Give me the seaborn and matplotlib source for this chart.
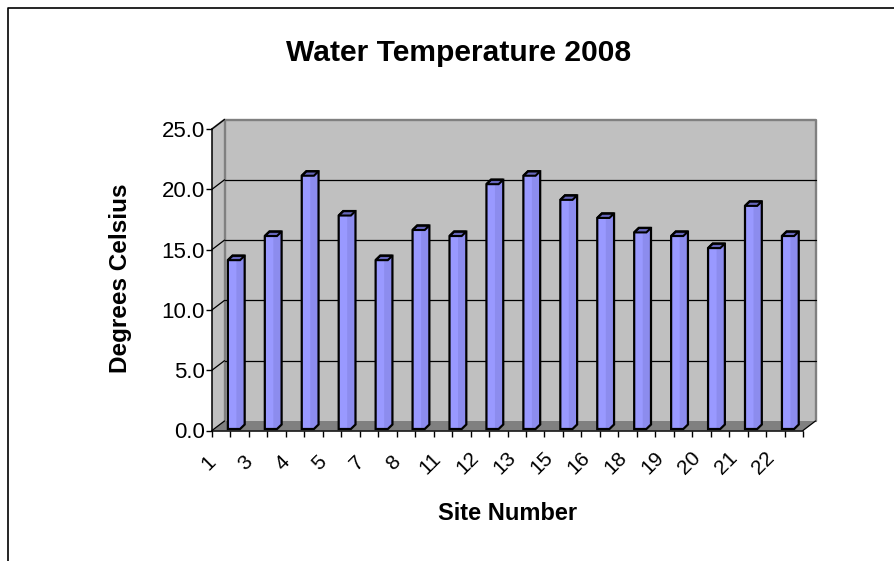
import matplotlib
matplotlib.use("Agg")
import matplotlib.pyplot as plt
import matplotlib.transforms as mtrans
from matplotlib.patches import Polygon
import seaborn as sns
import pandas as pd

sites = ["1", "3", "4", "5", "7", "8", "11", "12", "13", "15", "16", "18", "19", "20", "21", "22"]
temps = [14.0, 16.0, 21.0, 17.7, 14.0, 16.5, 16.0, 20.3, 21.0, 19.0, 17.5, 16.3, 16.0, 15.0, 18.5, 16.0]
y_ticks = [0, 5, 10, 15, 20, 25]

W, H = 894, 561
DPI = 100
# front plane of the fake 3d box, in pixels
LEFT, RIGHT, TOP, BOTTOM = 212, 803, 129, 430.5
DX, DY = 12.5, 9.5

sns.set_theme(style="white")
plt.rcParams["font.family"] = ["Liberation Sans", "DejaVu Sans"]

df = pd.DataFrame({"site": sites, "temp": temps})

fig = plt.figure(figsize=(W / DPI, H / DPI), dpi=DPI)
ax = fig.add_axes([LEFT / W, 1 - BOTTOM / H, (RIGHT - LEFT) / W, (BOTTOM - TOP) / H])
ax.patch.set_visible(False)

def shift(dx, dy):
    return ax.transData + mtrans.ScaledTranslation(dx / DPI, dy / DPI, fig.dpi_scale_trans)

# bars first, the walls go under them through zorder
sns.barplot(data=df, x="site", y="temp", order=sites, width=0.33, color="#9999FF",
            saturation=1, edgecolor="none", linewidth=0, ax=ax, zorder=5)
ax.set_xlim(-0.5, len(sites) - 0.5)
ax.set_ylim(0, 25)

# walls, done in pixels on the figure
def px_poly(pts, color, z=0):
    xy = [(x / W, 1 - y / H) for x, y in pts]
    fig.add_artist(Polygon(xy, closed=True, transform=fig.transFigure, facecolor=color,
                           edgecolor="none", zorder=z))

def px_line(xs, ys, color, lw):
    fig.add_artist(plt.Line2D([x / W for x in xs], [1 - y / H for y in ys], transform=fig.transFigure,
                              color=color, lw=lw, zorder=1))

ax.set_zorder(3)
px_poly([(LEFT + DX, TOP - DY), (RIGHT + DX, TOP - DY), (RIGHT + DX, BOTTOM - DY), (LEFT + DX, BOTTOM - DY)], "#C0C0C0")
px_poly([(LEFT, TOP), (LEFT + DX, TOP - DY), (LEFT + DX, BOTTOM - DY), (LEFT, BOTTOM)], "#C0C0C0")
px_poly([(LEFT, BOTTOM), (LEFT + DX, BOTTOM - DY), (RIGHT + DX, BOTTOM - DY), (RIGHT, BOTTOM)], "#808080")

# wall edges in grey
px_line([LEFT + DX, LEFT + DX, RIGHT + DX, RIGHT + DX], [BOTTOM - DY, TOP - DY, TOP - DY, BOTTOM - DY], "#808080", 1.7)
px_line([LEFT, LEFT + DX], [TOP, TOP - DY], "#808080", 1.4)

# gridlines on the back wall plus stubs on the side wall
for t in y_ticks[1:-1]:
    ax.plot([-0.5, len(sites) - 0.5], [t, t], color="black", lw=0.9, zorder=1, transform=shift(DX, DY), clip_on=False)
for t in y_ticks:
    sx = ax.transData.transform((-0.5, t))
    fig.add_artist(plt.Line2D([sx[0] / W, (sx[0] + DX) / W], [sx[1] / H, (sx[1] + DY) / H],
                              transform=fig.transFigure, color="black", lw=0.9, zorder=2))
px_line([RIGHT, RIGHT + DX], [BOTTOM, BOTTOM - DY], "black", 0.9)

# 3d look for each bar: strip on the right of the face, side, top and one outline round it all
for p in list(ax.patches):
    x0, w, h = p.get_x(), p.get_width(), p.get_height()
    tr = shift(3.5, 1.5)
    p.set_transform(tr)
    d = 0.125
    u = 4.5 * 25 / (BOTTOM - TOP)
    ax.add_patch(Polygon([(x0 + w * 0.7, 0), (x0 + w, 0), (x0 + w + d, u), (x0 + w + d, h + u), (x0 + w, h), (x0 + w * 0.7, h)],
                         closed=True, facecolor="#8C8CEE", edgecolor="none", transform=tr, zorder=5.2))
    ax.add_patch(Polygon([(x0, h), (x0 + d, h + u), (x0 + w + d, h + u), (x0 + w, h)], closed=True,
                         facecolor="#6666BB", edgecolor="black", lw=1.5, transform=tr, zorder=5.4))
    ax.add_patch(Polygon([(x0, 0), (x0 + w, 0), (x0 + w + d, u), (x0 + w + d, h + u), (x0 + d, h + u), (x0, h)],
                         closed=True, facecolor="none", edgecolor="black", lw=1.6, transform=tr, zorder=5.6))

# axis: ticks at category edges and middles, labels on the edges
ax.set_yticks(y_ticks)
ax.set_yticklabels([f"{t:.1f}" for t in y_ticks], fontsize=16, color="black")
edges = [i - 0.5 for i in range(len(sites) + 1)]
mids = [i for i in range(len(sites))]
ax.set_xticks(edges[:-1])
ax.set_xticklabels(sites, rotation=45, ha="center", va="center", rotation_mode="anchor", fontsize=15, color="black")
ax.set_xticks(mids + [edges[-1]], minor=True)
ax.tick_params(axis="y", length=4, width=1, color="black", left=True, pad=1)
ax.tick_params(axis="x", which="major", length=4, width=1, color="black", bottom=True, pad=19.4)
ax.tick_params(axis="x", which="minor", length=4, width=1, color="black", bottom=True)
for lab in ax.get_xticklabels():
    lab.set_transform(lab.get_transform() + mtrans.ScaledTranslation(-3 / DPI, 0, fig.dpi_scale_trans))
for s in ["top", "right"]:
    ax.spines[s].set_visible(False)
for s in ["left", "bottom"]:
    ax.spines[s].set_color("black")
    ax.spines[s].set_linewidth(1.1)
ax.set_xlabel("")
ax.set_ylabel("")

fig.text(459 / W, 1 - 53 / H, "Water Temperature 2008", fontsize=21.6, fontweight="bold", ha="center", va="center", color="black")
fig.text(508 / W, 1 - 514 / H, "Site Number", fontsize=17, fontweight="bold", ha="center", va="center", color="black")
fig.text(120 / W, 1 - 278 / H, "Degrees Celsius", fontsize=17.5, fontweight="bold", rotation=90, ha="center", va="center", color="black")

# outer chart frame, runs off the picture on the right and at the bottom
px_line([7.5, 7.5, 894], [561, 7.5, 7.5], "black", 1.2)

fig.savefig("out.png", dpi=DPI)
